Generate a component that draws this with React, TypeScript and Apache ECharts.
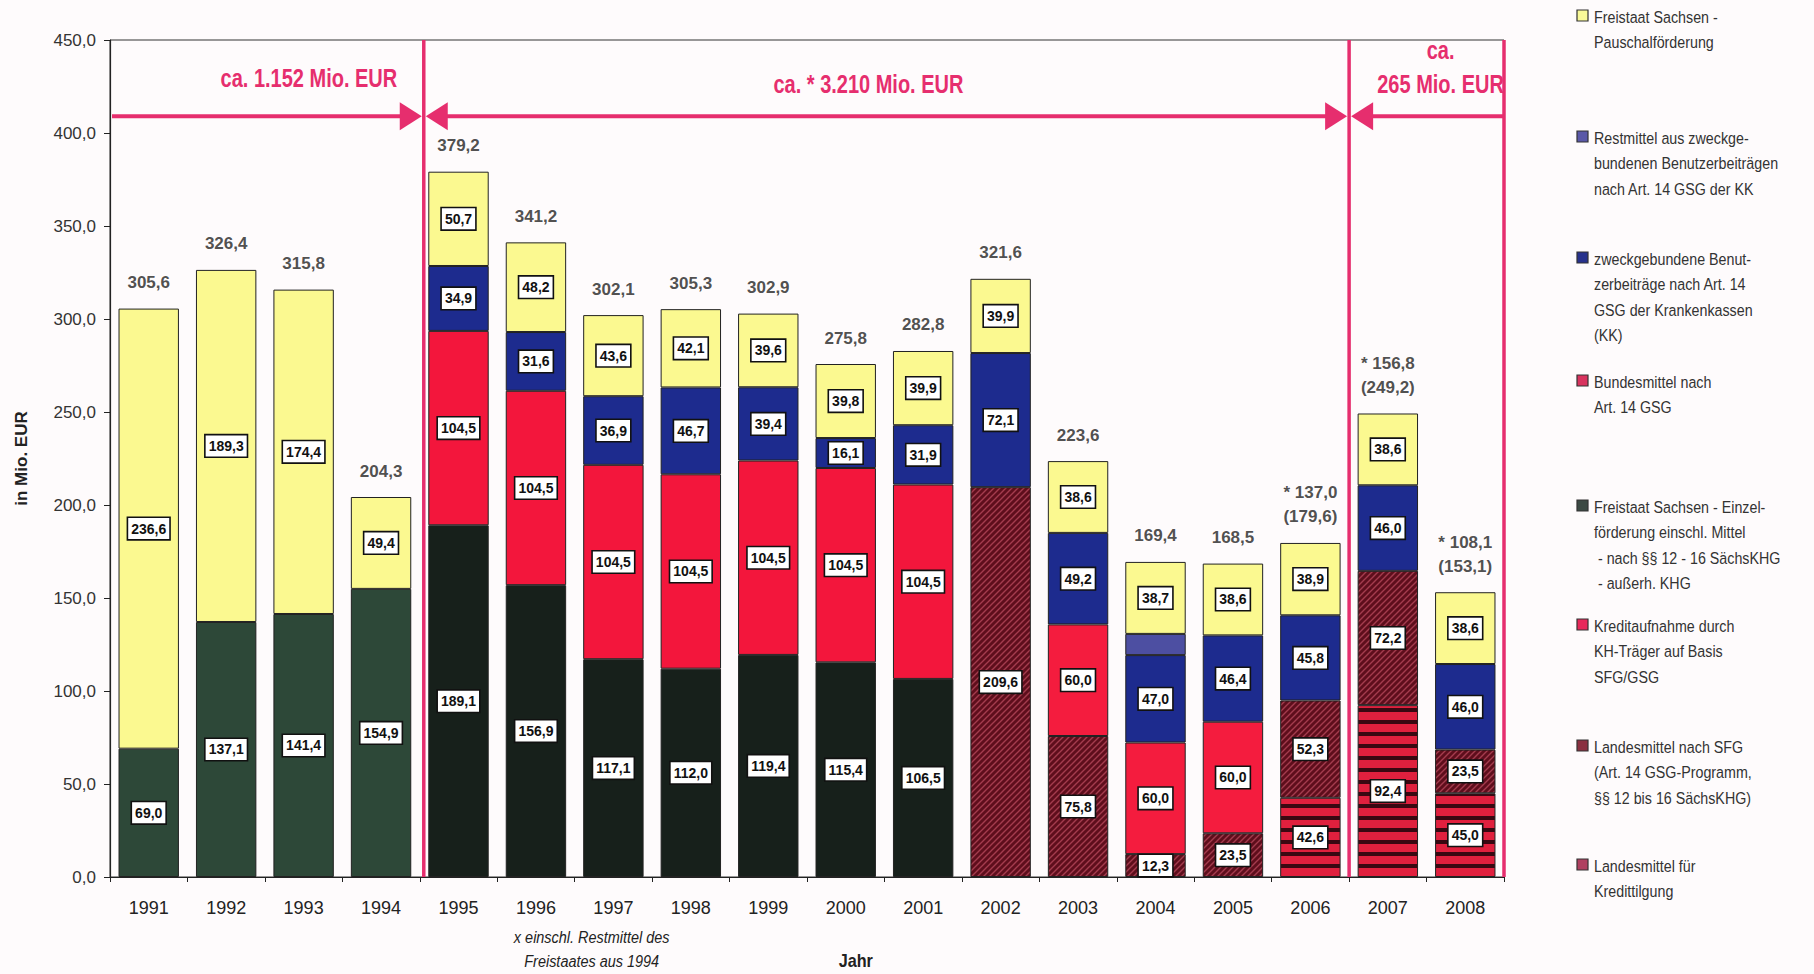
import React, { useEffect, useRef } from 'react';
import * as echarts from 'echarts';

const years = ['1991','1992','1993','1994','1995','1996','1997','1998','1999','2000','2001','2002','2003','2004','2005','2006','2007','2008'];
const N = null;
// bottom to top
const kredittilgung = [N,N,N,N,N,N,N,N,N,N,N,N,N,N,N,42.6,92.4,45.0];
const landesSFG     = [N,N,N,N,N,N,N,N,N,N,N,209.6,75.8,12.3,23.5,52.3,72.2,23.5];
const einzel        = [69.0,137.1,141.4,154.9,189.1,156.9,117.1,112.0,119.4,115.4,106.5,N,N,N,N,N,N,N];
const bundesmittel  = [N,N,N,N,104.5,104.5,104.5,104.5,104.5,104.5,104.5,N,N,N,N,N,N,N];
const kreditaufnahme= [N,N,N,N,N,N,N,N,N,N,N,N,60.0,60.0,60.0,N,N,N];
const zweckgeb      = [N,N,N,N,34.9,31.6,36.9,46.7,39.4,16.1,31.9,72.1,49.2,47.0,46.4,45.8,46.0,46.0];
const restmittel    = [N,N,N,N,N,N,N,N,N,N,N,N,N,11.4,N,N,N,N];
const pauschal      = [236.6,189.3,174.4,49.4,50.7,48.2,43.6,42.1,39.6,39.8,39.9,39.9,38.6,38.7,38.6,38.9,38.6,38.6];
const totals        = [305.6,326.4,315.8,204.3,379.2,341.2,302.1,305.3,302.9,275.8,282.8,321.6,223.6,169.4,168.5,179.6,249.2,153.1];
const starred       = [N,N,N,N,N,N,N,N,N,N,N,N,N,N,N,137.0,156.8,108.1];
const yTicks = { min: 0, max: 450, interval: 50 };

const legendItems = [
  { lines: ['Freistaat Sachsen -', 'Pauschalförderung'], color: '#fafa98', y: 16 },
  { lines: ['Restmittel aus zweckge-', 'bundenen Benutzerbeiträgen', 'nach Art. 14 GSG der KK'], color: '#5a58a8', y: 137 },
  { lines: ['zweckgebundene Benut-', 'zerbeiträge nach Art. 14', 'GSG der Krankenkassen', '(KK)'], color: '#27318c', y: 258 },
  { lines: ['Bundesmittel nach', 'Art. 14 GSG'], color: '#d8335e', y: 381 },
  { lines: ['Freistaat Sachsen - Einzel-', 'förderung einschl. Mittel', ' - nach §§ 12 - 16 SächsKHG', ' - außerh. KHG'], color: '#3c4a44', y: 506 },
  { lines: ['Kreditaufnahme durch', 'KH-Träger auf Basis', 'SFG/GSG'], color: '#e8285a', y: 625 },
  { lines: ['Landesmittel nach SFG', '(Art. 14 GSG-Programm,', '§§ 12 bis 16 SächsKHG)'], color: '#8a3040', y: 746 },
  { lines: ['Landesmittel für', 'Kredittilgung'], color: '#b04060', y: 865 },
];

const FONT = "'Liberation Sans', Arial, sans-serif";
const PINK = '#e62e6e';

const fmt = (v: number) => v.toFixed(1).replace('.', ',');

function hatch() {
  const c = document.createElement('canvas');
  c.width = 6; c.height = 6;
  const g = c.getContext('2d')!;
  g.fillStyle = '#5e0e1c'; g.fillRect(0, 0, 6, 6);
  g.strokeStyle = '#a43c4e'; g.lineWidth = 1.4;
  g.beginPath();
  g.moveTo(0, 6); g.lineTo(6, 0);
  g.moveTo(-3, 3); g.lineTo(3, -3);
  g.moveTo(3, 9); g.lineTo(9, 3);
  g.stroke();
  return { image: c.toDataURL(), repeat: 'repeat', imageWidth: 6, imageHeight: 6 } as any;
}
function stripes() {
  const c = document.createElement('canvas');
  c.width = 8; c.height = 12;
  const g = c.getContext('2d')!;
  g.fillStyle = '#e0203e'; g.fillRect(0, 0, 8, 12);
  g.fillStyle = '#3a0812'; g.fillRect(0, 0, 8, 4);
  return { image: c.toDataURL(), repeat: 'repeat', imageWidth: 8, imageHeight: 12 } as any;
}

const toData = (arr: (number | null)[]) => arr.map(v => (v == null ? '-' : v));

export default function App() {
  const ref = useRef<HTMLDivElement>(null);
  useEffect(() => {
    const el = ref.current!;
    const chart = echarts.init(el, null, { renderer: 'svg' });
    const inLabel = {
      show: true, position: 'inside',
      formatter: (p: any) => (typeof p.value === 'number' ? fmt(p.value) : ''),
      backgroundColor: '#fff', borderColor: '#111', borderWidth: 1.6,
      padding: [4, 3, 3, 3], fontFamily: FONT, fontWeight: 'bold', fontSize: 14, color: '#111',
    };
    const bar = (name: string, data: any[], color: any, label = true) => ({
      name, type: 'bar', stack: 'a', data, barCategoryGap: '22%',
      itemStyle: { color, borderColor: '#222', borderWidth: 1 },
      label: label ? inLabel : { show: false },
      silent: true,
    });
    const einzelData = einzel.map((v, i) => v == null ? '-' : { value: v, itemStyle: { color: i < 4 ? '#2d4838' : '#17201b' } });
    const option: any = {
      animation: false,
      backgroundColor: '#fefbfc',
      grid: { left: 110, right: 310, top: 40, bottom: 97, show: true, borderColor: '#333', borderWidth: 1, backgroundColor: 'transparent' },
      xAxis: {
        type: 'category', data: years,
        axisLine: { lineStyle: { color: '#222', width: 1.2 } },
        axisTick: { show: true, length: 5, lineStyle: { color: '#222' } },
        axisLabel: { fontFamily: FONT, fontSize: 18, color: '#222', margin: 22 },
      },
      yAxis: {
        type: 'value', min: yTicks.min, max: yTicks.max, interval: yTicks.interval,
        name: 'in Mio. EUR', nameLocation: 'middle', nameGap: 80,
        nameTextStyle: { fontFamily: FONT, fontWeight: 'bold', fontSize: 17, color: '#222' },
        axisLine: { show: true, lineStyle: { color: '#222', width: 1.2 } },
        axisTick: { show: true, length: 6, lineStyle: { color: '#222' } },
        splitLine: { show: false },
        axisLabel: { fontFamily: FONT, fontSize: 17, color: '#333', margin: 14, formatter: (v: number) => fmt(v) },
      },
      series: [
        bar('Landesmittel für Kredittilgung', toData(kredittilgung), stripes()),
        bar('Landesmittel nach SFG', toData(landesSFG), hatch()),
        bar('Freistaat Sachsen - Einzelförderung', einzelData, '#17201b'),
        bar('Bundesmittel nach Art. 14 GSG', toData(bundesmittel), '#f3163c'),
        bar('Kreditaufnahme durch KH-Träger', toData(kreditaufnahme), '#f41c3e'),
        bar('zweckgebundene Benutzerbeiträge', toData(zweckgeb), '#1d2b8e'),
        bar('Restmittel', toData(restmittel), '#4d4fa2', false),
        bar('Freistaat Sachsen - Pauschalförderung', toData(pauschal), '#fbf990'),
        {
          name: 'Summe', type: 'scatter', data: totals, symbolSize: 0, silent: true,
          itemStyle: { color: 'transparent' }, z: 5,
          label: {
            show: true, position: 'top', distance: 14,
            fontFamily: FONT, fontWeight: 'bold', fontSize: 17, color: '#222', lineHeight: 24,
            formatter: (p: any) => {
              const s = starred[p.dataIndex];
              return s != null ? `* ${fmt(s)}\n(${fmt(p.value)})` : fmt(p.value);
            },
          },
        },
      ],
    };
    chart.setOption(option);

    const xp = (c: string) => chart.convertToPixel({ xAxisIndex: 0 }, c) as number;
    const yp = (v: number) => chart.convertToPixel({ yAxisIndex: 0 }, v) as number;
    const band = xp('1992') - xp('1991');
    const left = xp('1991') - band / 2;
    const right = xp('2008') + band / 2;
    const b1 = (xp('1994') + xp('1995')) / 2 + 4;
    const b2 = (xp('2006') + xp('2007')) / 2;
    const top = yp(450);
    const bottom = yp(0);
    const ay = yp(409);
    const hl = 22, hh = 14;
    const lineStyle = { stroke: PINK, lineWidth: 4 };
    const head = (tipX: number, dir: 1 | -1) => ({
      type: 'polygon', z: 100,
      shape: { points: [[tipX, ay], [tipX - dir * hl, ay - hh], [tipX - dir * hl, ay + hh]] },
      style: { fill: PINK },
    });
    const pinkText = (text: string, x: number, y: number) => ({
      type: 'text', z: 100, x, y, scaleX: 0.8,
      style: { text, fill: PINK, font: `bold 25px ${FONT}`, align: 'center', verticalAlign: 'middle' },
    });
    const graphics: any[] = [
      { type: 'line', z: 100, shape: { x1: b1, y1: top, x2: b1, y2: bottom }, style: { stroke: PINK, lineWidth: 3.5 } },
      { type: 'line', z: 100, shape: { x1: b2, y1: top, x2: b2, y2: bottom }, style: { stroke: PINK, lineWidth: 3.5 } },
      { type: 'line', z: 100, shape: { x1: right, y1: top, x2: right, y2: bottom }, style: { stroke: PINK, lineWidth: 3.5 } },
      { type: 'line', z: 100, shape: { x1: left + 2, y1: ay, x2: b1 - hl, y2: ay }, style: lineStyle },
      head(b1 - 2, 1),
      { type: 'line', z: 100, shape: { x1: b1 + hl, y1: ay, x2: b2 - hl, y2: ay }, style: lineStyle },
      head(b1 + 2, -1),
      head(b2 - 2, 1),
      { type: 'line', z: 100, shape: { x1: b2 + hl, y1: ay, x2: right, y2: ay }, style: lineStyle },
      head(b2 + 2, -1),
      pinkText('ca. 1.152 Mio. EUR', (left + b1) / 2 + 42, yp(429)),
      pinkText('ca. * 3.210 Mio. EUR', (b1 + b2) / 2 - 18, yp(426)),
      pinkText('ca.', (b2 + right) / 2 + 14, yp(444)),
      pinkText('265 Mio. EUR', (b2 + right) / 2 + 14, yp(426)),
      {
        type: 'text', x: xp('1996') + band * 0.72, y: bottom + 48, scaleX: 0.85,
        style: { text: 'x einschl. Restmittel des\nFreistaates aus 1994', font: `italic 17px ${FONT}`, fill: '#222', align: 'center', verticalAlign: 'top', lineHeight: 24 },
      },
      {
        type: 'text', x: xp('2000') + 10, y: bottom + 84, scaleX: 0.9,
        style: { text: 'Jahr', font: `bold 18px ${FONT}`, fill: '#222', align: 'center', verticalAlign: 'middle' },
      },
    ];
    legendItems.forEach(it => {
      graphics.push({
        type: 'rect', shape: { x: 1577, y: it.y - 6, width: 11, height: 11 },
        style: { fill: it.color, stroke: '#333', lineWidth: 1.2 },
      });
      graphics.push({
        type: 'text', x: 1594, y: it.y - 12, scaleX: 0.84,
        style: { text: it.lines.join('\n'), font: `17px ${FONT}`, fill: '#333', lineHeight: 25.5, verticalAlign: 'top' },
      });
    });
    chart.setOption({ graphic: graphics });
    return () => chart.dispose();
  }, []);
  return <div ref={ref} style={{ position: 'absolute', left: 0, top: 0, width: 1814, height: 974 }} />;
}
